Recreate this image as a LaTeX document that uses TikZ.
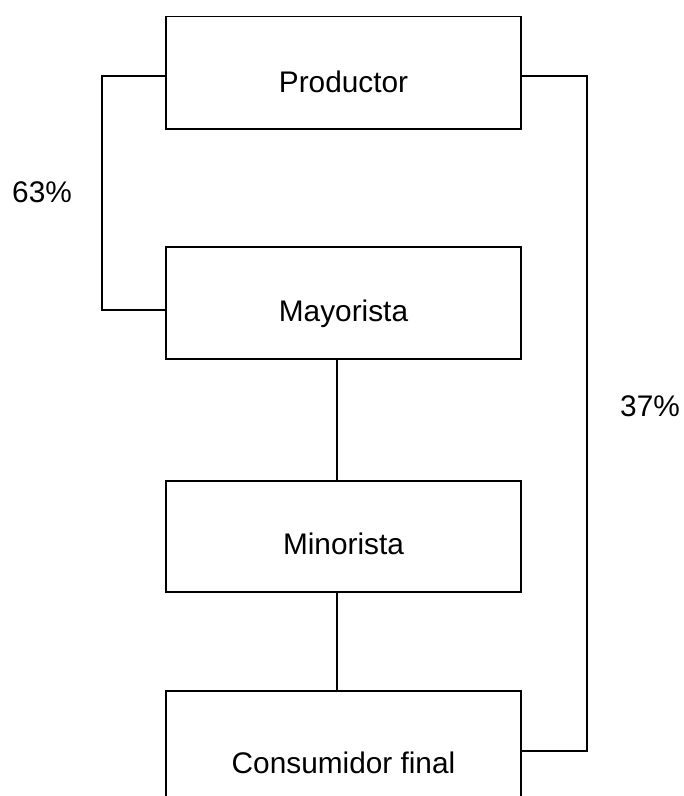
\documentclass[tikz,border=0pt]{standalone}
\usepackage{fontspec}
\setmainfont{Liberation Sans}
\begin{document}
\begin{tikzpicture}[x=1bp,y=-1bp,
  box/.style={draw, line width=1.5bp, inner sep=0pt, minimum width=355bp, align=center,
    font=\fontsize{29.8bp}{34bp}\selectfont},
  conn/.style={line width=1.5bp},
  pct/.style={anchor=base west, inner sep=0pt, font=\fontsize{29.8bp}{34bp}\selectfont}]
\useasboundingbox (0,0) rectangle (684,796);
\clip (0,0) rectangle (684,796);
\node[box, text height=76bp, text depth=36bp] (p) at (343.5,16) [anchor=north] {Productor};
\node[box, text height=75bp, text depth=37bp] (m) at (343.5,246) [anchor=north] {Mayorista};
\node[box, text height=74bp, text depth=37bp] (n) at (343.5,480) [anchor=north] {Minorista};
\node[box, text height=83bp, text depth=37bp] (c) at (343.5,690) [anchor=north] {Consumidor final};
\draw[conn] ([yshift=-3bp]p.west) -- ++(-63,0) |- ([yshift=-7bp]m.west);
\draw[conn] ([yshift=-3bp]p.east) -- ++(65,0) |- (c.east);
\draw[conn] ([xshift=-6.5bp]m.south) -- ([xshift=-6.5bp]n.north);
\draw[conn] ([xshift=-6.5bp]n.south) -- ([xshift=-6.5bp]c.north);
\node[pct] (l63) at (12,202) {63\%};
\node[pct] (l37) at (620,416) {37\%};
\end{tikzpicture}
\end{document}
